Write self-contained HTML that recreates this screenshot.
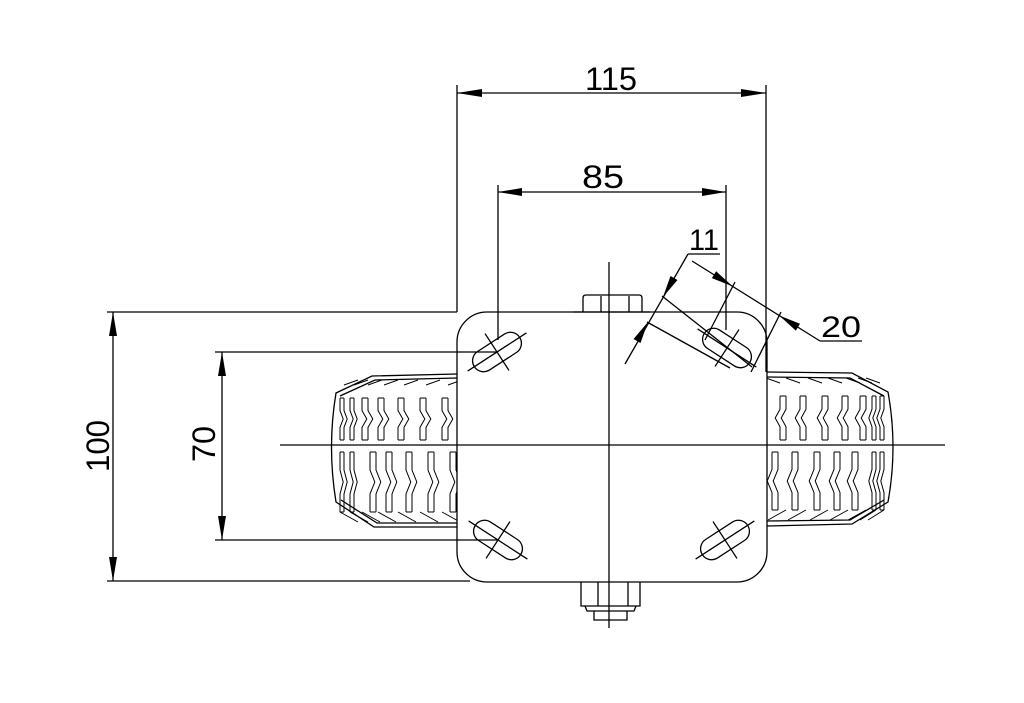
<!DOCTYPE html>
<html><head><meta charset="utf-8"><style>
html,body{margin:0;padding:0;background:#fff;}
svg{display:block;}
text{font-family:"Liberation Sans",sans-serif;fill:#000;}
</style></head><body>
<svg id="s" width="1024" height="703" viewBox="0 0 1024 703" xmlns="http://www.w3.org/2000/svg">
<g fill="none" stroke="#000" stroke-width="1.3">
<path d="M457,374 L372,376 L336,393 Q327,447 336,502 L374,527 L457,527"/>
<path d="M457,378 L375,380 L340,396"/>
<path d="M457,523 L377,523 L341,500"/>
<path d="M767,372 L852,373 L888,392 Q898,447 888,502 L852,524 L767,526"/>
<path d="M767,377 L850,378 L884,396"/>
<path d="M767,521 L850,520 L884,500"/>
<g id="tread" stroke-width="1"></g>
<rect x="457" y="312" width="310" height="270" rx="30" fill="#fff"/>
<path d="M583,312 L583,298 Q583,295 586,295 L639,295 Q642,295 642,298 L642,312 M601,296 L601,312 M629,296 L629,312"/>
<line x1="573" y1="312" x2="650" y2="312"/>
<path d="M581,582 L581,606 L640,606 L640,582 M598,582 L598,606 M628,582 L628,606"/>
<path d="M585,606 L587,611 L634,611 L636,606"/>
<path d="M594,611 L594,620 L627,620 L627,611"/>
<line x1="609" y1="262" x2="609" y2="628"/>
<line x1="280" y1="445" x2="945" y2="445"/>
<g id="slots"></g>
<line x1="457" y1="85" x2="457" y2="312"/>
<line x1="766" y1="85" x2="766" y2="372"/>
<line x1="457" y1="93" x2="766" y2="93"/>
<line x1="498" y1="185" x2="498" y2="340"/>
<line x1="726" y1="185" x2="726" y2="330"/>
<line x1="498" y1="192" x2="726" y2="192"/>
<line x1="107" y1="312" x2="457" y2="312"/>
<line x1="107" y1="581" x2="470" y2="581"/>
<line x1="113" y1="312" x2="113" y2="581"/>
<line x1="215" y1="352" x2="497" y2="352"/>
<line x1="215" y1="540" x2="497" y2="540"/>
<line x1="222" y1="352" x2="222" y2="540"/>
<line x1="688" y1="254" x2="720" y2="254"/>
<line x1="688" y1="254" x2="625" y2="364"/>
<line x1="662" y1="296" x2="752" y2="367"/>
<line x1="647" y1="322" x2="730" y2="368"/>
<line x1="820" y1="341" x2="862" y2="341"/>
<line x1="820" y1="341" x2="692" y2="261"/>
<line x1="735" y1="282" x2="705" y2="340"/>
<line x1="781" y1="312" x2="751" y2="372"/>
</g>
<g fill="#000">
<polygon points="457,93 482,89 482,97"/><polygon points="766,93 741,89 741,97"/>
<polygon points="498,192 522,188 522,196"/><polygon points="726,192 702,188 702,196"/>
<polygon points="113,312 109,336 117,336"/><polygon points="113,581 109,557 117,557"/>
<polygon points="222,352 218,376 226,376"/><polygon points="222,540 218,516 226,516"/>
<polygon points="663,297 677.5,280 670.5,276"/><polygon points="648,322 640.5,343 633.5,339"/>
<polygon points="732.7,286.4 716.1,271.3 711.9,278.1"/><polygon points="779.2,315.5 800,323.8 795.8,330.6"/>
</g>
<text x="585" y="90" font-size="32" textLength="52" lengthAdjust="spacingAndGlyphs">115</text>
<text x="582" y="188" font-size="32" textLength="42" lengthAdjust="spacingAndGlyphs">85</text>
<text x="689" y="250" font-size="30" textLength="30" lengthAdjust="spacingAndGlyphs">11</text>
<text x="821" y="337" font-size="30" textLength="40" lengthAdjust="spacingAndGlyphs">20</text>
<text transform="translate(109,472) rotate(-90)" font-size="32" textLength="52" lengthAdjust="spacingAndGlyphs">100</text>
<text transform="translate(215,462) rotate(-90)" font-size="32" textLength="36" lengthAdjust="spacingAndGlyphs">70</text>
</svg>
<script>
var NS="http://www.w3.org/2000/svg";
function el(p,n,a){var e=document.createElementNS(NS,n);for(var k in a)e.setAttribute(k,a[k]);p.appendChild(e);return e;}
var sl=document.getElementById("slots");
[[497,352,-33],[727,348,33],[498,540,33],[725,540,-33]].forEach(function(s){
 var g=el(sl,"g",{transform:"translate("+s[0]+","+s[1]+") rotate("+s[2]+")"});
 el(g,"rect",{x:-27,y:-11,width:54,height:22,rx:11});
 el(g,"line",{x1:-35,y1:0,x2:35,y2:0});
 el(g,"line",{x1:0,y1:-22,x2:0,y2:22});
});
var tr=document.getElementById("tread");
function zig(x,y1,y2,dir,w){
 var m=(y1+y2)/2, d="";
 for(var o=0;o<2;o++){var xx=x+o*w;
  d+="M"+xx+","+y1+" L"+xx+","+(y1+(y2-y1)*0.3)+" L"+(xx+dir*w*0.8)+","+m+" L"+xx+","+(y1+(y2-y1)*0.7)+" L"+xx+","+y2+" ";}
 d+="M"+x+","+y1+" L"+(x+w)+","+y1+" M"+x+","+y2+" L"+(x+w)+","+y2;
 el(tr,"path",{d:d});
}
[340,350,362,378,398,420,442].forEach(function(x,i){
 var w=i<2?4:6;
 zig(x,398,440,1,w); zig(x+(i<2?0:8),452,512,1,w);
 el(tr,"line",{x1:x+w,y1:385,x2:x+w+14,y2:380});
 el(tr,"line",{x1:x,y1:512,x2:x+18,y2:522});
});
[880,872,860,842,822,800,780].forEach(function(x,i){
 var w=i<2?4:6;
 zig(x,396,440,-1,w); zig(x-(i<2?0:8),452,510,-1,w);
 el(tr,"line",{x1:x,y1:383,x2:x-14,y2:378});
 el(tr,"line",{x1:x+w,y1:510,x2:x-12,y2:520});
});
</script>
</body></html>
